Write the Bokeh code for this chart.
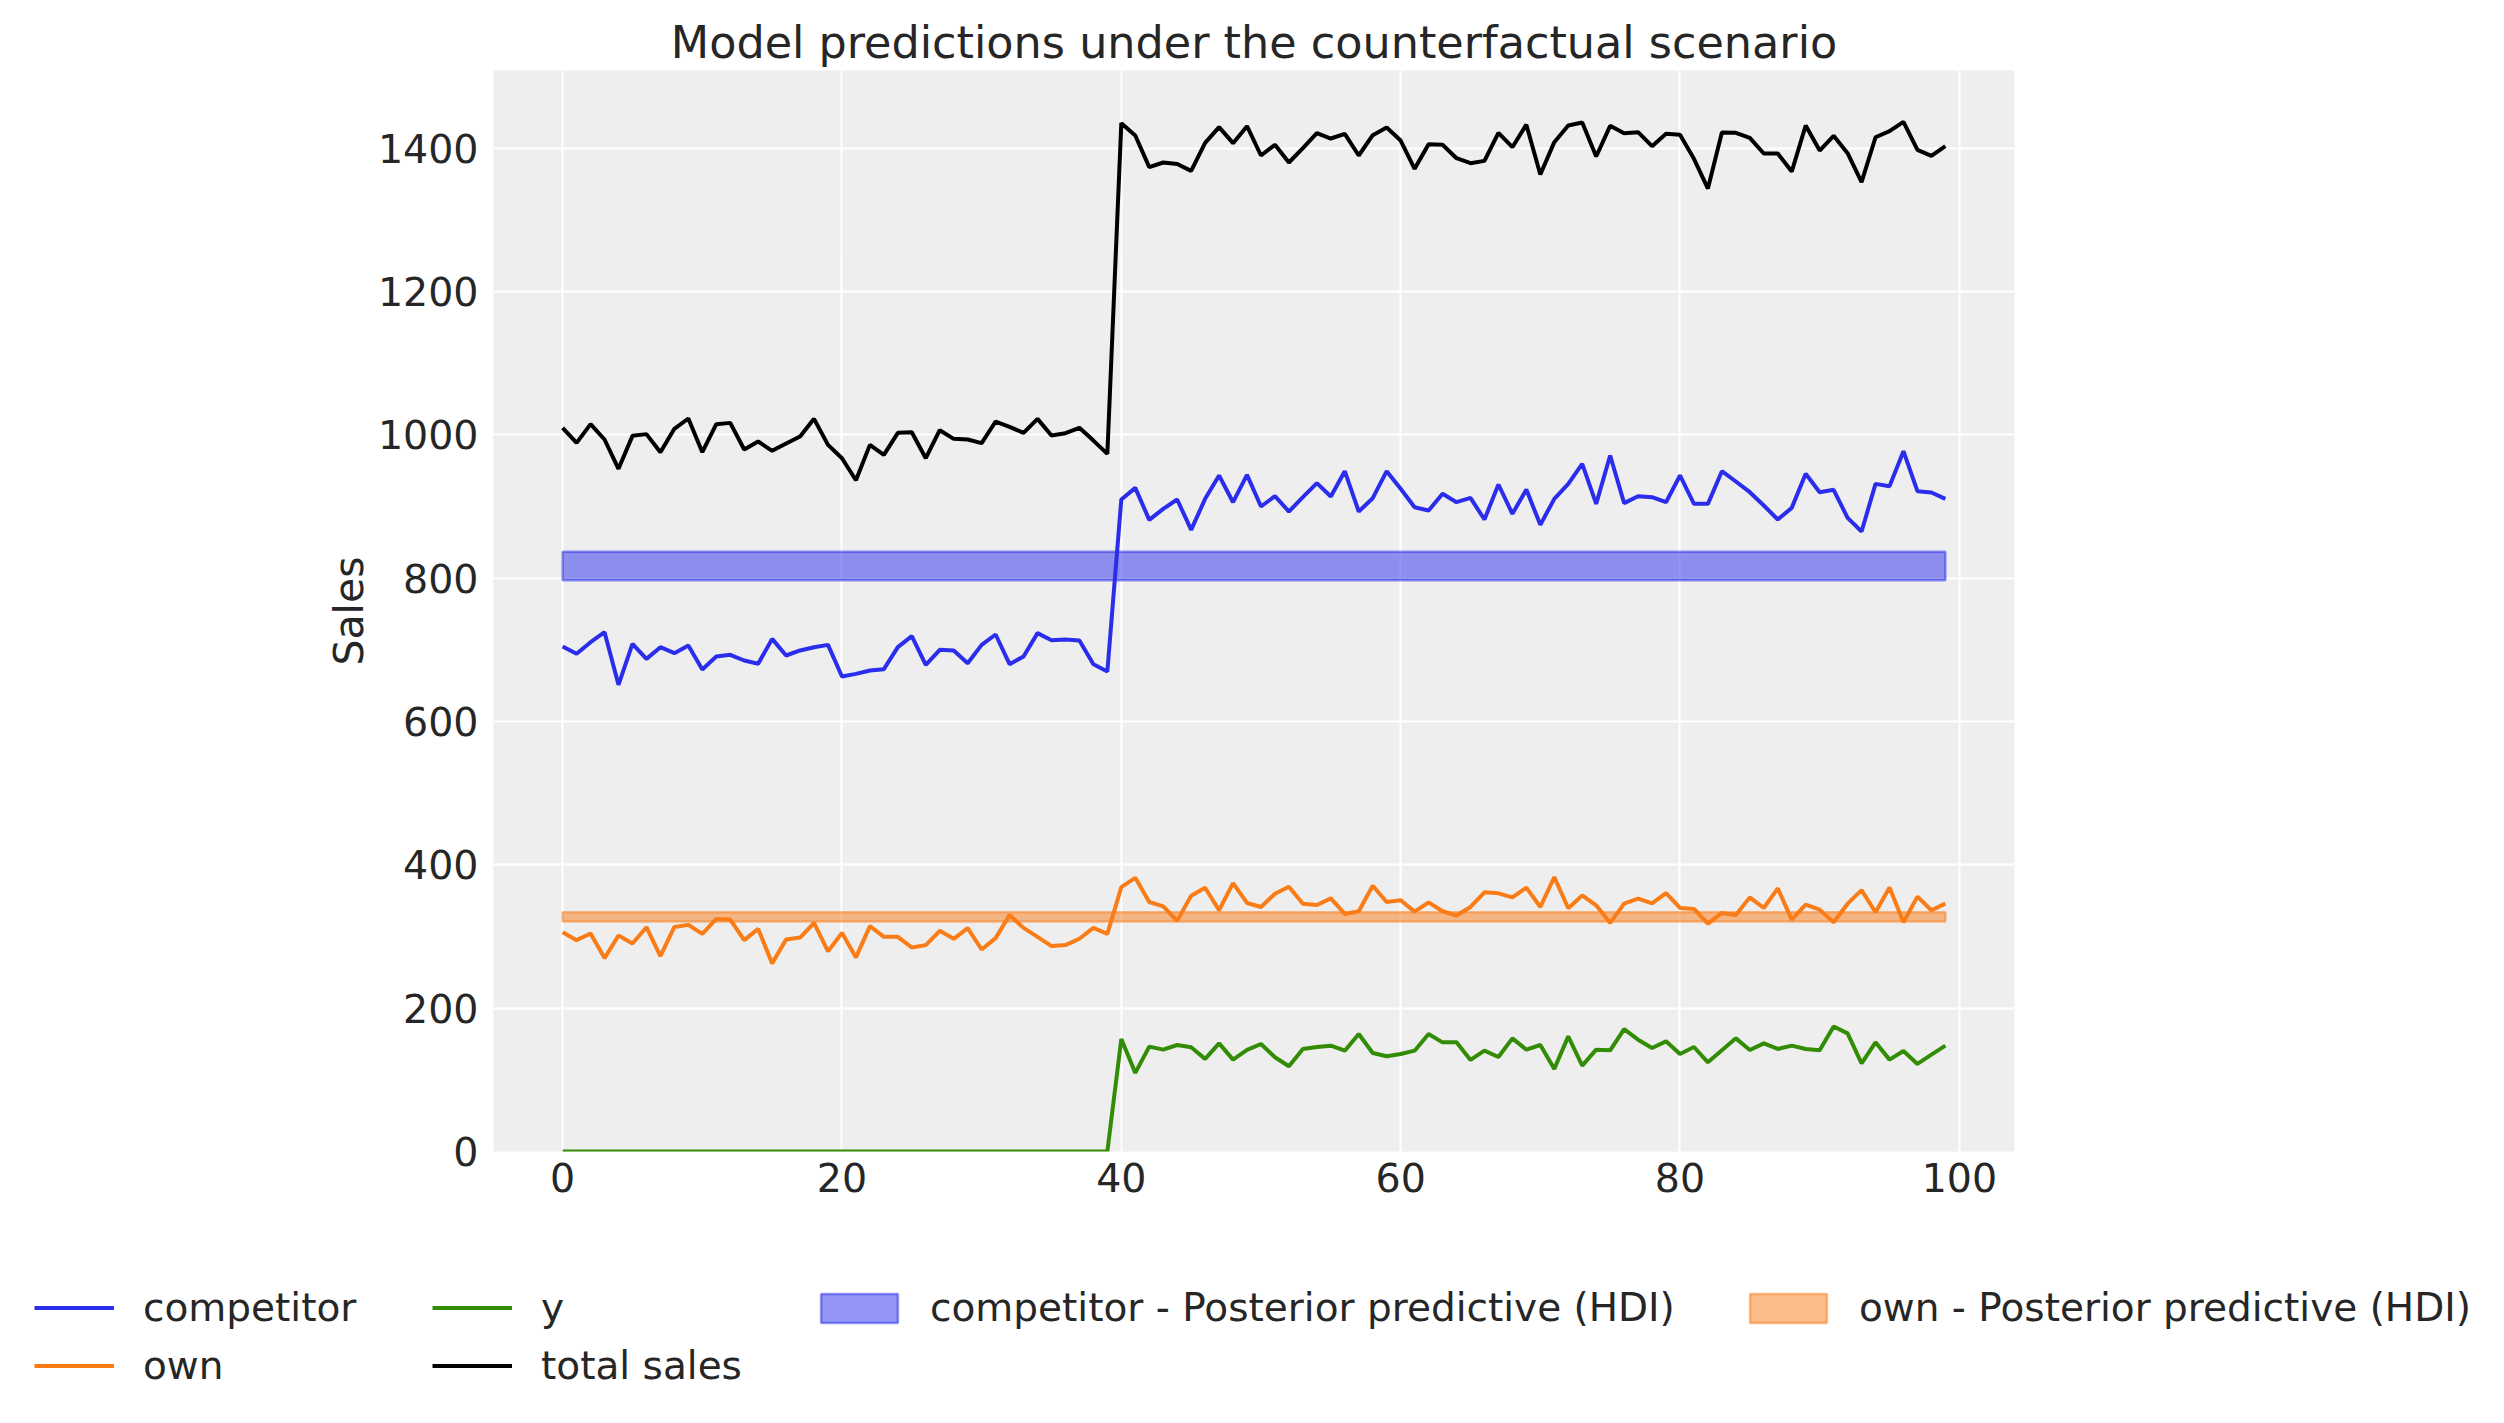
from bokeh.plotting import figure
from bokeh.models import Legend, LegendItem, FixedTicker, Range1d
from bokeh.layouts import column
from bokeh.embed import file_html
from bokeh.resources import INLINE

# ---------------- data ----------------
x = list(range(100))

competitor = [
    704.7, 694.5, 710.7, 724.7, 651.2, 708.4, 687.4, 703.7, 695.3, 706.0,
    672.6, 690.7, 693.0, 685.1, 680.5, 715.3, 692.1, 699.1, 703.7, 706.9,
    662.8, 666.5, 671.2, 673.0, 703.7, 719.1, 679.1, 700.0, 699.1, 681.4,
    706.9, 721.4, 680.0, 690.7, 723.3, 713.5, 714.3, 713.0, 680.0, 669.8,
    909.8, 926.0, 881.4, 896.7, 909.8, 867.4, 910.7, 943.3, 906.0, 944.2,
    900.0, 914.4, 893.0, 913.0, 932.6, 914.0, 949.3, 893.0, 911.6, 949.3,
    924.7, 899.0, 894.4, 917.7, 906.0, 912.0, 881.9, 930.7, 889.8, 923.7,
    874.4, 910.7, 931.6, 959.5, 903.7, 971.2, 904.7, 914.4, 913.0, 906.0,
    943.3, 903.7, 903.7, 949.3, 934.9, 920.0, 901.4, 881.9, 898.1, 945.6,
    920.0, 923.3, 884.2, 865.1, 931.6, 928.4, 977.2, 921.4, 919.5, 910.7,
]

own = [
    306.0, 294.9, 304.2, 269.9, 301.4, 290.3, 313.0, 272.7, 313.4, 316.2,
    303.7, 324.5, 323.6, 294.9, 310.6, 262.5, 295.8, 298.6, 319.0, 279.2,
    305.1, 270.8, 314.4, 299.5, 299.5, 284.7, 288.0, 307.9, 296.8, 311.6,
    281.9, 297.7, 330.1, 312.0, 299.5, 286.6, 288.0, 296.8, 312.0, 303.7,
    369.0, 381.9, 348.1, 342.1, 321.8, 357.0, 368.1, 336.6, 374.5, 346.8,
    341.2, 359.7, 369.4, 345.8, 344.0, 353.2, 331.5, 335.2, 370.8, 348.1,
    350.5, 334.7, 347.7, 335.2, 329.2, 341.2, 361.6, 360.2, 354.6, 368.3,
    341.2, 382.9, 339.4, 357.4, 343.5, 319.0, 345.8, 352.8, 346.3, 360.6,
    339.8, 338.4, 318.1, 332.9, 330.1, 354.6, 339.8, 367.1, 323.6, 344.4,
    337.5, 319.9, 345.8, 364.8, 333.8, 368.5, 319.9, 355.6, 336.6, 345.8,
]

y_sales = [
    0.0, 0.0, 0.0, 0.0, 0.0, 0.0, 0.0, 0.0, 0.0, 0.0,
    0.0, 0.0, 0.0, 0.0, 0.0, 0.0, 0.0, 0.0, 0.0, 0.0,
    0.0, 0.0, 0.0, 0.0, 0.0, 0.0, 0.0, 0.0, 0.0, 0.0,
    0.0, 0.0, 0.0, 0.0, 0.0, 0.0, 0.0, 0.0, 0.0, 0.0,
    157.0, 109.7, 146.3, 142.1, 148.6, 145.4, 129.2, 150.9, 128.2, 141.7,
    150.0, 131.5, 119.0, 143.1, 145.8, 147.7, 140.7, 163.9, 137.5, 132.9,
    136.1, 140.7, 163.9, 152.3, 152.3, 127.8, 140.7, 131.9, 157.9, 142.1,
    148.6, 115.3, 160.6, 119.9, 142.1, 141.2, 170.8, 156.0, 144.4, 153.7,
    136.1, 145.8, 124.5, 141.2, 157.9, 141.7, 150.9, 143.1, 147.7, 143.1,
    141.2, 174.5, 164.8, 123.1, 152.3, 128.2, 140.3, 122.2, 135.2, 147.7,
]

total_sales = [
    1009.8, 988.8, 1015.0, 993.5, 952.6, 998.6, 1001.0, 975.8, 1008.4, 1022.8,
    975.8, 1014.9, 1016.7, 979.5, 990.7, 977.7, 987.9, 997.7, 1022.3, 986.0,
    967.4, 936.7, 986.0, 972.0, 1002.8, 1003.7, 967.4, 1006.5, 994.4, 993.5,
    988.4, 1018.6, 1011.2, 1002.8, 1022.3, 999.0, 1002.3, 1009.8, 992.0, 973.5,
    1434.9, 1417.7, 1373.5, 1380.0, 1378.0, 1368.4, 1407.4, 1429.3, 1407.0, 1430.7,
    1389.8, 1404.7, 1380.0, 1400.0, 1420.9, 1413.5, 1420.0, 1389.8, 1418.1, 1428.8,
    1410.7, 1371.2, 1405.6, 1404.7, 1386.0, 1379.0, 1382.3, 1421.4, 1401.4, 1432.8,
    1363.3, 1408.4, 1431.6, 1435.8, 1388.4, 1431.2, 1420.9, 1422.3, 1402.8, 1420.0,
    1418.6, 1385.1, 1343.7, 1421.9, 1421.4, 1414.4, 1392.6, 1392.6, 1367.4, 1431.6,
    1396.7, 1417.2, 1393.0, 1352.6, 1415.3, 1423.7, 1436.7, 1397.7, 1389.3, 1402.8,
]

competitor_hdi_low, competitor_hdi_high = 797.0, 837.0
own_hdi_low, own_hdi_high = 321.0, 334.0

x_ticks = [0, 20, 40, 60, 80, 100]
y_ticks = [0, 200, 400, 600, 800, 1000, 1200, 1400]

title_text = "Model predictions under the counterfactual scenario"
y_label = "Sales"
legend_labels = ["competitor", "own", "y", "total sales",
                 "competitor - Posterior predictive (HDI)",
                 "own - Posterior predictive (HDI)"]

# ---------------- styling ----------------
FONT = "DejaVu Sans"
TXT = "#262626"
C_BLUE = "#2a2eec"
C_ORANGE = "#fa7c17"
C_GREEN = "#328c06"
C_BLACK = "#000000"
LW = 4

TOP, FRAME_H, BOTTOM = 70, 1081, 80
TOTAL_H = 1407

p = figure(
    frame_width=1521, frame_height=FRAME_H,
    min_border_left=493, min_border_right=474,
    min_border_top=TOP, min_border_bottom=BOTTOM,
    x_range=Range1d(-4.95, 103.95), y_range=Range1d(0, 1508.4),
    output_backend="svg", toolbar_location=None,
    background_fill_color="#eeeeee", border_fill_color="white",
)
p.outline_line_color = None

p.title.text = title_text
p.title.text_font = FONT
p.title.text_font_size = "44.5px"
p.title.text_font_style = "normal"
p.title.text_color = TXT
p.title.align = "center"
p.title.standoff = 6

for ax in (p.xaxis[0], p.yaxis[0]):
    ax.axis_line_color = None
    ax.major_tick_line_color = None
    ax.minor_tick_line_color = None
    ax.major_tick_out = 0
    ax.major_tick_in = 0
    ax.minor_tick_out = 0
    ax.major_label_text_font = FONT
    ax.major_label_text_font_size = "39.5px"
    ax.major_label_text_color = TXT

p.xaxis.ticker = FixedTicker(ticks=x_ticks)
p.yaxis.ticker = FixedTicker(ticks=y_ticks)
p.xaxis.major_label_standoff = 11
p.yaxis.major_label_standoff = 15
p.yaxis.axis_label = y_label
p.yaxis.axis_label_text_font = FONT
p.yaxis.axis_label_text_font_size = "41px"
p.yaxis.axis_label_text_font_style = "normal"
p.yaxis.axis_label_text_color = TXT
p.yaxis.axis_label_standoff = 2

p.xgrid.grid_line_color = "white"
p.ygrid.grid_line_color = "white"
p.xgrid.grid_line_width = 2
p.ygrid.grid_line_width = 2
p.xgrid.ticker = FixedTicker(ticks=x_ticks)
p.ygrid.ticker = FixedTicker(ticks=y_ticks)

line_styles = [
    dict(line_color=C_BLUE, line_width=LW),
    dict(line_color=C_ORANGE, line_width=LW),
    dict(line_color=C_GREEN, line_width=LW),
    dict(line_color=C_BLACK, line_width=LW),
]
band_styles = [
    dict(fill_color=C_BLUE, fill_alpha=0.5, line_color=C_BLUE, line_alpha=0.5, line_width=2.5),
    dict(fill_color=C_ORANGE, fill_alpha=0.5, line_color=C_ORANGE, line_alpha=0.5, line_width=2.5),
]
series = [competitor, own, y_sales, total_sales]
bands = [(competitor_hdi_low, competitor_hdi_high), (own_hdi_low, own_hdi_high)]

for ys, st in zip(series, line_styles):
    p.line(x, ys, **st)
for (lo, hi), st in zip(bands, band_styles):
    p.quad(left=[x[0]], right=[x[-1]], bottom=[lo], top=[hi], **st)

# ---------------- legend strip below the plot ----------------
LEG_H = TOTAL_H - (TOP + FRAME_H + BOTTOM)
p2 = figure(
    width=2488, height=LEG_H, min_border=0,
    x_range=Range1d(0, 1), y_range=Range1d(-2, -1),
    x_axis_type=None, y_axis_type=None,
    output_backend="svg", toolbar_location=None,
    background_fill_color="white", border_fill_color="white",
)
p2.outline_line_color = None
p2.grid.visible = False
for fig in (p, p2):
    try:
        fig.frame_align = False
    except Exception:
        pass

# legend handles: same series, lying outside this strip's view (so not drawn)
proxies = [p2.line(x, ys, **st) for ys, st in zip(series, line_styles)]
proxies += [p2.quad(left=[x[0]], right=[x[-1]], bottom=[lo], top=[hi], **st)
            for (lo, hi), st in zip(bands, band_styles)]

# (left x, offset from strip bottom, glyph width, glyph height, standoff) per entry
legend_pos = [
    (34, 77, 80, 29, 29), (34, 19, 80, 29, 29),
    (432, 77, 80, 29, 29), (432, 19, 80, 29, 29),
    (811, 77, 96, 36, 23), (1740, 77, 96, 36, 23),
]

for lab, r, (lx, ly, gw, gh, so) in zip(legend_labels, proxies, legend_pos):
    leg = Legend(
        items=[LegendItem(label=lab, renderers=[r])], location=(lx, ly),
        label_text_font=FONT, label_text_font_size="39px", label_text_color=TXT,
        glyph_width=gw, glyph_height=gh, label_standoff=so, label_height=44,
        padding=0, margin=0, border_line_color=None, background_fill_alpha=0,
    )
    p2.add_layout(leg, "center")

open("out.html", "w").write(file_html(column(p, p2), INLINE))
